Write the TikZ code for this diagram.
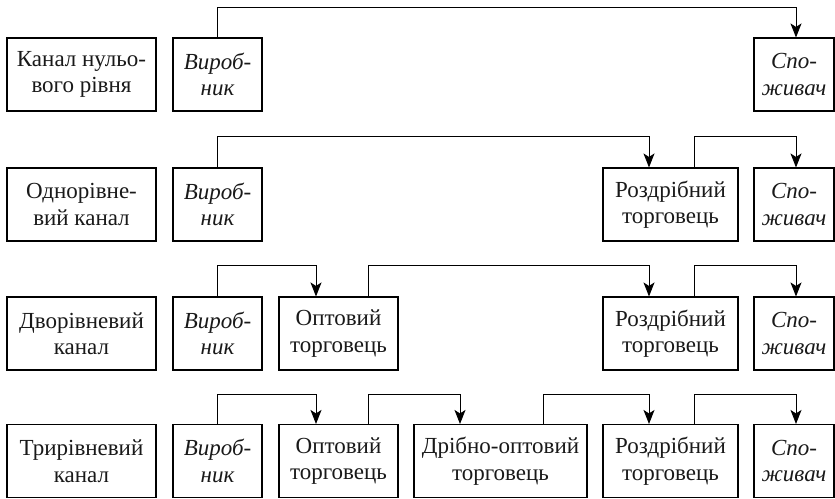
\documentclass[tikz,border=0pt]{standalone}
\usepackage{fontspec}
\setmainfont{Liberation Serif}
\newfontfamily\serfont{Liberation Serif}
\usetikzlibrary{arrows.meta}
\begin{document}
\begin{tikzpicture}[x=1pt,y=-1pt,
  box/.style={draw, line width=1.1pt, minimum height=73pt, inner sep=0pt, align=center,
    text=black!90, font=\serfont\fontsize{23}{26.5}\selectfont},
  lab/.style={box, minimum width=149pt},
  vyr/.style={box, minimum width=89pt},
  opt/.style={box, minimum width=119pt},
  dri/.style={box, minimum width=173pt},
  roz/.style={box, minimum width=135pt},
  spo/.style={box, minimum width=80pt},
  conn/.style={line width=0.9pt, -{Stealth[length=14pt,width=11pt,inset=3.5pt]}}]
\useasboundingbox (0,0) rectangle (835,498);
% row 1
\node[lab] (l1) at (81.5,74.5) {Канал нульо-\\вого рівня};
\node[vyr] (v1) at (217.5,74.5) {\textit{Вироб-}\\\textit{ник}};
\node[spo] (s1) at (794,74.5) {\textit{Спо-}\\\textit{живач}};
% row 2
\node[lab] (l2) at (81.5,204.5) {Однорівне-\\вий канал};
\node[vyr] (v2) at (217.5,204.5) {\textit{Вироб-}\\\textit{ник}};
\node[roz] (r2) at (670.5,204.5) {Роздрібний\\торговець};
\node[spo] (s2) at (794,204.5) {\textit{Спо-}\\\textit{живач}};
% row 3
\node[lab] (l3) at (81.5,333.5) {Дворівневий\\канал};
\node[vyr] (v3) at (217.5,333.5) {\textit{Вироб-}\\\textit{ник}};
\node[opt] (o3) at (338.5,333.5) {Оптовий\\торговець};
\node[roz] (r3) at (670.5,333.5) {Роздрібний\\торговець};
\node[spo] (s3) at (794,333.5) {\textit{Спо-}\\\textit{живач}};
% row 4
\node[lab] (l4) at (81.5,461) {Трирівневий\\канал};
\node[vyr] (v4) at (217.5,461) {\textit{Вироб-}\\\textit{ник}};
\node[opt] (o4) at (338.5,461) {Оптовий\\торговець};
\node[dri] (d4) at (500.5,461) {Дрібно-оптовий\\торговець};
\node[roz] (r4) at (670.5,461) {Роздрібний\\торговець};
\node[spo] (s4) at (794,461) {\textit{Спо-}\\\textit{живач}};
% connectors
\draw[conn] (v1.north) -- ++(0,-30) -| ([xshift=2pt]s1.north);
\draw[conn] (v2.north) -- ++(0,-31) -| ([xshift=-21.5pt]r2.north);
\draw[conn] ([xshift=23.5pt]r2.north) -- ++(0,-31) -| ([xshift=2pt]s2.north);
\draw[conn] (v3.north) -- ++(0,-31) -| ([xshift=-22.5pt]o3.north);
\draw[conn] ([xshift=29.5pt]o3.north) -- ++(0,-31) -| ([xshift=-21.5pt]r3.north);
\draw[conn] ([xshift=23.5pt]r3.north) -- ++(0,-31) -| ([xshift=2pt]s3.north);
\draw[conn] (v4.north) -- ++(0,-30) -| ([xshift=-22.5pt]o4.north);
\draw[conn] ([xshift=29.5pt]o4.north) -- ++(0,-30) -| ([xshift=-40.5pt]d4.north);
\draw[conn] ([xshift=42.5pt]d4.north) -- ++(0,-30) -| ([xshift=-21.5pt]r4.north);
\draw[conn] ([xshift=23.5pt]r4.north) -- ++(0,-30) -| ([xshift=2pt]s4.north);
\end{tikzpicture}
\end{document}
